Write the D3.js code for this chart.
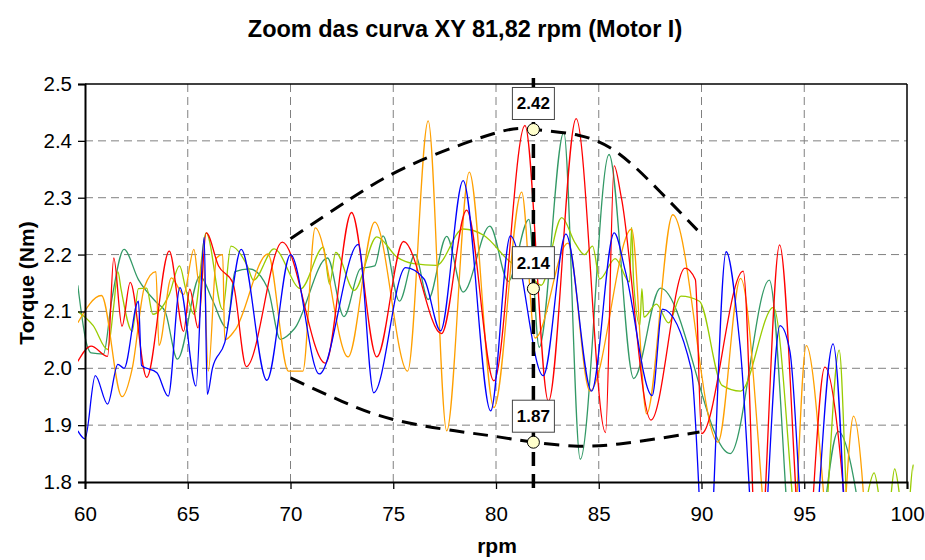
<!doctype html>
<html>
<head>
<meta charset="UTF-8">
<title>Zoom das curva XY</title>
<script src="https://d3js.org/d3.v7.min.js"></script>
<style>
  body { margin: 0; background: #fff; }
  text { font-family: Arial, "Liberation Sans", sans-serif; }
</style>
</head>
<body>
<script>
// ---- data ----
var xTicks = [60, 65, 70, 75, 80, 85, 90, 95, 100];
var yTicks = [1.8, 1.9, 2.0, 2.1, 2.2, 2.3, 2.4, 2.5];

var red = [[59.65,2.012],[60.3,2.039],[61.1,2.021],[61.4,2.194],[61.8,2.074],[62.2,2.151],[63.0,1.984],[64.1,2.206],[64.8,2.065],[65.1,2.139],[65.5,2.071],[65.9,2.238],[66.5,2.18],[67.2,2.15],[67.85,2.003],[69.6,2.222],[71.7,2.009],[72.97,2.274],[74.2,2.02],[75.5,2.223],[77.35,2.061],[78.57,2.278],[79.9,1.978],[81.41,2.427],[82.55,1.942],[83.9,2.439],[85.33,1.887],[85.75,2.356],[86.1,2.3],[87.54,1.909],[89.2,2.176],[89.7,2.156],[90.0,1.885],[92.03,2.171],[92.75,1.62],[93.8,2.217],[95.0,1.62],[96.0,2.002],[97.3,1.62]];

var blue = [[59.65,1.89],[60.0,1.876],[60.5,1.987],[61.1,1.937],[61.6,2.007],[61.9,2.0],[62.6,2.118],[62.75,2.005],[63.5,1.992],[64.05,1.951],[64.62,2.142],[65.4,1.969],[65.8,2.23],[65.95,1.954],[66.2,2.0],[66.8,2.045],[67.6,2.209],[68.85,1.979],[70.0,2.2],[71.4,1.99],[73.3,2.218],[74.05,1.957],[75.6,2.177],[76.5,2.157],[77.3,2.066],[78.4,2.33],[79.74,1.925],[80.7,2.233],[82.3,1.987],[83.4,2.236],[84.65,1.96],[85.75,2.238],[86.3,2.17],[87.6,1.952],[88.1,2.104],[89.5,1.999],[90.25,1.6],[91.2,2.205],[91.87,2.042],[92.8,1.6],[93.82,2.075],[94.3,2.03],[95.2,1.6],[96.4,2.043],[97.1,1.6]];

var orange = [[59.65,2.08],[60.8,2.128],[61.8,1.95],[62.3,2.0],[62.9,2.144],[63.45,2.17],[63.6,2.04],[64.2,2.159],[64.8,2.13],[65.3,2.209],[65.55,2.15],[65.75,2.2],[66.0,1.995],[66.4,2.194],[66.7,2.2],[66.8,2.05],[67.3,2.067],[68.9,2.201],[69.9,1.995],[70.6,1.995],[71.2,2.247],[72.8,2.02],[74.1,2.257],[75.7,1.995],[76.7,2.435],[77.6,1.89],[78.7,2.345],[79.9,1.931],[81.25,2.31],[81.9,2.053],[83.5,2.22],[84.57,1.96],[86.6,2.245],[87.33,1.92],[88.6,2.27],[90.8,1.87],[91.9,2.158],[93.6,1.6],[94.3,1.6],[95.1,2.04],[96.6,1.6],[97.4,1.916],[98.2,1.6]];

var green = [[59.65,2.146],[60.1,2.04],[60.3,2.027],[60.9,2.025],[61.3,2.12],[61.9,2.209],[62.6,2.156],[63.5,2.115],[63.9,2.10],[64.5,2.016],[65.6,2.162],[66.2,2.12],[66.9,2.071],[67.3,2.17],[68.0,2.175],[68.9,2.14],[69.5,2.051],[70.2,2.07],[71.8,2.194],[72.6,2.091],[73.4,2.175],[74.1,2.18],[74.5,2.233],[75.3,2.118],[76.06,2.2],[76.7,2.121],[77.6,2.232],[78.4,2.134],[79.7,2.25],[80.6,2.153],[81.6,2.262],[82.1,2.037],[83.3,2.415],[84.1,1.84],[85.5,2.376],[86.7,1.982],[88.0,2.141],[91.4,1.85],[93.3,2.155],[94.6,1.6],[95.3,1.6],[96.65,1.889],[97.9,1.7]];

var yellowGreen = [[59.65,2.10],[60.4,2.075],[61.1,2.033],[61.4,2.11],[61.6,2.17],[61.75,2.14],[62.3,2.065],[62.6,2.14],[63.0,2.141],[63.3,2.095],[64.1,2.13],[64.6,2.18],[64.9,2.14],[65.3,2.095],[65.9,2.238],[66.7,2.103],[67.1,2.215],[67.9,2.18],[68.2,2.155],[69.2,2.21],[70.5,2.14],[71.6,2.213],[71.9,2.148],[72.2,2.204],[73.1,2.137],[74.2,2.231],[75.2,2.195],[76.0,2.184],[77.1,2.181],[78.4,2.245],[79.4,2.234],[80.7,2.187],[81.5,2.17],[82.2,2.146],[83.2,2.265],[83.84,2.221],[84.3,2.2],[84.7,2.215],[85.05,2.157],[85.8,2.193],[86.5,2.152],[86.6,2.248],[86.7,2.15],[87.0,2.076],[87.1,2.14],[87.2,2.09],[87.8,2.113],[88.4,2.08],[89.0,2.127],[89.9,2.118],[91.0,1.97],[91.9,1.96],[93.5,2.107],[94.9,1.65],[95.8,1.65],[96.7,2.032],[97.2,1.7],[97.9,1.75],[98.4,1.816],[98.8,1.75],[99.1,1.75],[99.4,1.823],[99.8,1.75],[100.05,1.75],[100.3,1.83],[100.5,1.75]];

var upperEnvelope = [[70,2.228],[73,2.30],[76,2.36],[80,2.414],[81.82,2.42],[84,2.41],[86,2.377],[88,2.31],[89.8,2.243]];
var lowerEnvelope = [[70,1.983],[72.5,1.942],[75,1.91],[78,1.89],[80,1.88],[81.82,1.87],[84,1.863],[86,1.867],[88,1.877],[89.9,1.888]];

var markerRpm = 81.82;
var markerValues = [2.42, 2.14, 1.87];

// ---- layout ----
var W = 925, H = 560;
var svg = d3.select("body").append("svg").attr("width", W).attr("height", H);

var x = d3.scaleLinear().domain([60, 100]).range([85, 907]);
var y = d3.scaleLinear().domain([1.8, 2.5]).range([482, 84]);

// grid
svg.append("g").selectAll("line").data(yTicks.slice(1, -1)).enter().append("line")
  .attr("x1", x(60)).attr("x2", x(100))
  .attr("y1", function(d){ return y(d); }).attr("y2", function(d){ return y(d); })
  .attr("stroke", "#808080").attr("stroke-width", 1).attr("stroke-dasharray", "8,5");
svg.append("g").selectAll("line").data(xTicks.slice(1, -1)).enter().append("line")
  .attr("y1", y(2.5)).attr("y2", y(1.8))
  .attr("x1", function(d){ return x(d); }).attr("x2", function(d){ return x(d); })
  .attr("stroke", "#808080").attr("stroke-width", 1).attr("stroke-dasharray", "8,5");

// series
svg.append("clipPath").attr("id", "clip").append("rect")
  .attr("x", 78).attr("y", 84).attr("width", 836).attr("height", 408);

var line = d3.line()
  .x(function(d){ return x(d[0]); })
  .y(function(d){ return y(d[1]); })
  .curve(d3.curveMonotoneX);

var series = [
  {data: green, color: "#339966"},
  {data: yellowGreen, color: "#99cc00"},
  {data: orange, color: "#ffa000"},
  {data: red, color: "#ff0000"},
  {data: blue, color: "#0000ff"}
];
var gs = svg.append("g").attr("clip-path", "url(#clip)");
series.forEach(function(s){
  gs.append("path").attr("d", line(s.data))
    .attr("fill", "none").attr("stroke", s.color).attr("stroke-width", 1.3);
});

// envelope
var env = d3.line()
  .x(function(d){ return x(d[0]); })
  .y(function(d){ return y(d[1]); })
  .curve(d3.curveNatural);
[upperEnvelope, lowerEnvelope].forEach(function(e){
  svg.append("path").attr("d", env(e))
    .attr("fill", "none").attr("stroke", "#000").attr("stroke-width", 3)
    .attr("stroke-dasharray", "15,9");
});

// axes
var xAxis = d3.axisBottom(x).tickValues(xTicks).tickSize(7).tickPadding(17);
var yAxis = d3.axisLeft(y).tickValues(yTicks).tickSize(7).tickPadding(6).tickFormat(d3.format(".1f"));

var gx = svg.append("g").attr("transform", "translate(0," + y(1.8) + ")").call(xAxis);
var gy = svg.append("g").attr("transform", "translate(" + x(60) + ",0)").call(yAxis);
[gx, gy].forEach(function(g){
  g.select(".domain").attr("stroke", "#000").attr("stroke-width", 2);
  g.selectAll(".tick line").attr("stroke", "#000").attr("stroke-width", 1.3);
  g.selectAll(".tick text").attr("font-size", 20.5).attr("fill", "#000")
    .style("font-family", "Arial, 'Liberation Sans', sans-serif");
});
// top and right border
svg.append("line").attr("x1", x(60)).attr("x2", x(100)).attr("y1", y(2.5)).attr("y2", y(2.5))
  .attr("stroke", "#000").attr("stroke-width", 1.5);
svg.append("line").attr("x1", x(100)).attr("x2", x(100)).attr("y1", y(2.5)).attr("y2", y(1.8))
  .attr("stroke", "#000").attr("stroke-width", 1.5);

// vertical marker line
svg.append("line").attr("x1", x(markerRpm)).attr("x2", x(markerRpm))
  .attr("y1", 78).attr("y2", 491)
  .attr("stroke", "#000").attr("stroke-width", 3.5).attr("stroke-dasharray", "14,8");

// markers + labels
var mk = svg.append("g").selectAll("g").data(markerValues).enter().append("g")
  .attr("transform", function(d){ return "translate(" + x(markerRpm) + "," + y(d) + ")"; });
mk.append("rect").attr("x", -21).attr("y", -42).attr("width", 42).attr("height", 32)
  .attr("fill", "#fff").attr("stroke", "#444").attr("stroke-width", 1);
mk.append("text").attr("x", 0).attr("y", -20).attr("text-anchor", "middle")
  .attr("font-size", 17).attr("font-weight", "bold").text(function(d){ return d.toFixed(2); });
mk.append("circle").attr("r", 6).attr("fill", "#ffffcc").attr("stroke", "#000").attr("stroke-width", 1);

// titles
svg.append("text").attr("x", 465).attr("y", 37).attr("text-anchor", "middle")
  .attr("font-size", 23.5).attr("font-weight", "bold")
  .text("Zoom das curva XY 81,82 rpm (Motor I)");
svg.append("text").attr("x", 497).attr("y", 553).attr("text-anchor", "middle")
  .attr("font-size", 21).attr("font-weight", "bold").text("rpm");
svg.append("text").attr("transform", "translate(34,283) rotate(-90)").attr("text-anchor", "middle")
  .attr("font-size", 21).attr("font-weight", "bold").text("Torque (Nm)");
</script>
</body>
</html>
